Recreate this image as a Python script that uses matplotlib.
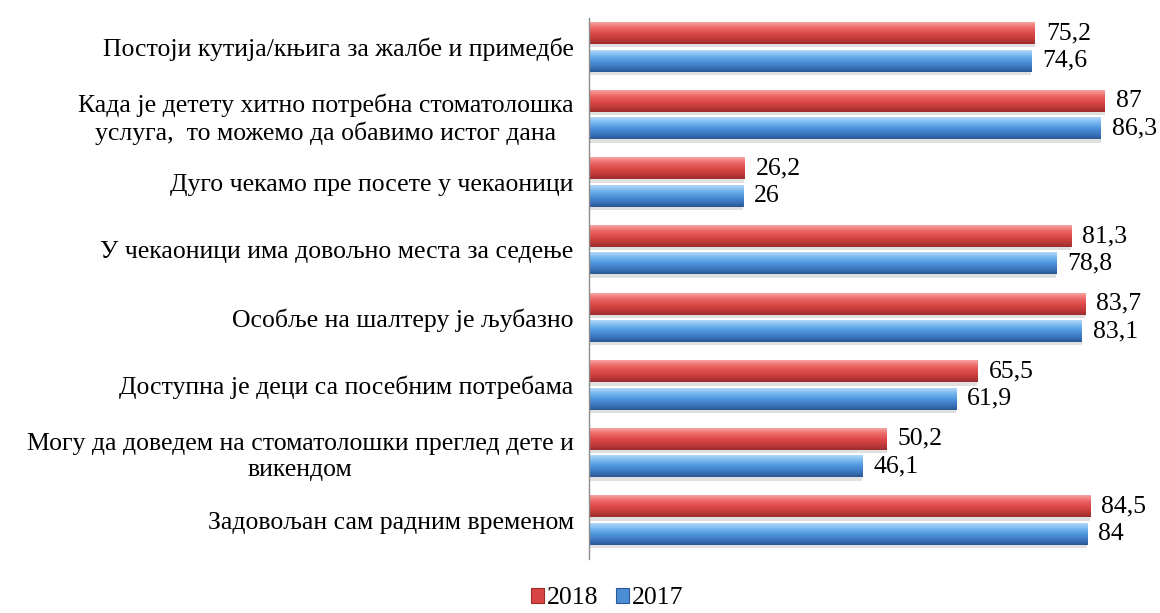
import numpy as np
import matplotlib.pyplot as plt
from matplotlib.colors import LinearSegmentedColormap
from matplotlib.patches import Rectangle

plt.rcParams['font.family'] = ['Liberation Serif', 'DejaVu Serif']

# --- DATA ---
categories = [
    "Постоји кутија/књига за жалбе и примедбе",
    "Када је детету хитно потребна стоматолошка\nуслуга,  то можемо да обавимо истог дана",
    "Дуго чекамо пре посете у чекаоници",
    "У чекаоници има довољно места за седење",
    "Особље на шалтеру је љубазно",
    "Доступна је деци са посебним потребама",
    "Могу да доведем на стоматолошки преглед дете и\nвикендом",
    "Задовољан сам радним временом",
]
values_2018 = [75.2, 87, 26.2, 81.3, 83.7, 65.5, 50.2, 84.5]
values_2017 = [74.6, 86.3, 26, 78.8, 83.1, 61.9, 46.1, 84]
series_names = ["2018", "2017"]

FS = 18.5

# vertical shading for the glossy bars (top -> bottom)
red_cmap = LinearSegmentedColormap.from_list(
    "red_gloss", ["#f6a3a3", "#ee6a68", "#dd4b4a", "#c43c3b", "#9c2c2c"])
blue_cmap = LinearSegmentedColormap.from_list(
    "blue_gloss", ["#b3d8f7", "#74b6f0", "#4f95dc", "#3d79c2", "#2a5794"])

fig = plt.figure(figsize=(11.6, 6.13), dpi=100)
ax = fig.add_axes([589 / 1160, 1 - 554 / 613, 1 - 589 / 1160, (554 - 13) / 613])

n = len(categories)
y = np.arange(n)
bar_h = 0.325
offset = 0.203
grad = np.linspace(0, 1, 64).reshape(-1, 1)


def gloss_bar(x_val, yc, cmap):
    y0, y1 = yc - bar_h / 2, yc + bar_h / 2
    # soft drop shadow
    ax.add_patch(Rectangle((0, y1), x_val, 0.05, color="#000000", alpha=0.12,
                           lw=0, zorder=1))
    ax.imshow(grad, cmap=cmap, aspect="auto", extent=[0, x_val, y1, y0],
              origin="upper", zorder=2, interpolation="bilinear")


def value_label(x_val, yc):
    ax.annotate(f"{x_val:g}".replace(".", ","), xy=(x_val, yc), xytext=(8, 0),
                textcoords="offset points", va="center", ha="left",
                fontsize=FS, annotation_clip=False)


for i in range(n):
    gloss_bar(values_2018[i], y[i] - offset, red_cmap)
    gloss_bar(values_2017[i], y[i] + offset, blue_cmap)
    value_label(values_2018[i], y[i] - offset)
    value_label(values_2017[i], y[i] + offset)

ax.set_xlim(0, 96.3)
ax.set_ylim(n - 0.5, -0.5)
ax.set_yticks(y)
ax.set_yticklabels(categories, fontsize=FS, multialignment="center", linespacing=1.22)
ax.tick_params(axis="y", length=0, pad=11)
ax.set_xticks([])
for side in ["top", "right", "bottom"]:
    ax.spines[side].set_visible(False)
ax.spines["left"].set_color("#8c8c8c")
ax.spines["left"].set_linewidth(1)
ax.spines["left"].set_bounds(-0.43, n - 0.43)

# legend with small glossy squares
handles = [Rectangle((0, 0), 1, 1, facecolor="#d94545", edgecolor="#9c2c2c", lw=0.8),
           Rectangle((0, 0), 1, 1, facecolor="#4a8fd6", edgecolor="#2a5794", lw=0.8)]
fig.legend(handles, series_names, loc="lower center", bbox_to_anchor=(607 / 1160, -0.032),
           ncol=2, frameon=False, fontsize=FS, handlelength=0.5, handleheight=0.5,
           handletextpad=0.1, columnspacing=0.7)

fig.savefig("out.png", dpi=100)
